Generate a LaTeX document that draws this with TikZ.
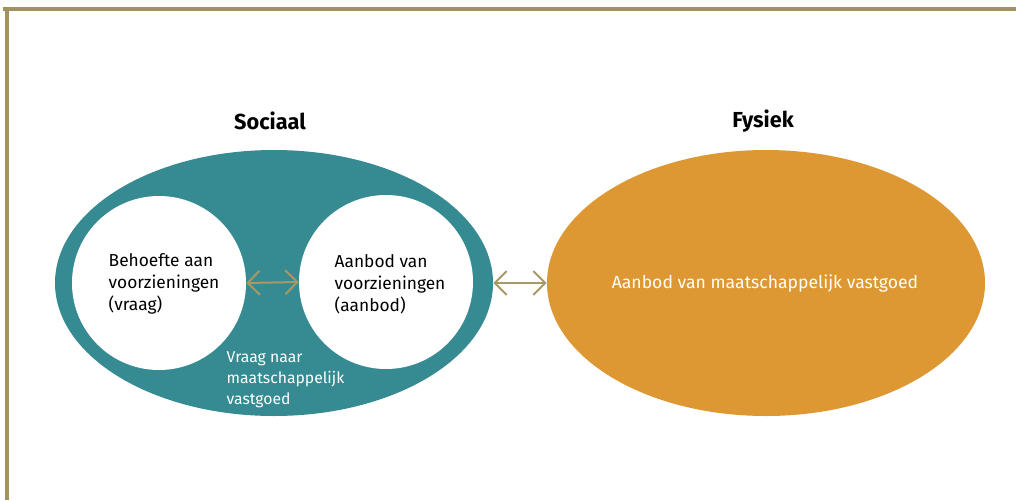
\documentclass[tikz,border=0pt]{standalone}
\usepackage{fontspec}
\setmainfont{Fira Sans}
\usetikzlibrary{shapes.geometric,arrows.meta}
\definecolor{teal1}{HTML}{368B93}
\definecolor{orange1}{HTML}{DE9833}
\definecolor{gold1}{HTML}{A89866}
\definecolor{frame1}{HTML}{A3925F}
\tikzset{
  bigell/.style={ellipse, minimum width=438*0.75pt, minimum height=266*0.75pt, inner sep=0pt},
  wcirc/.style={circle, fill=white, minimum size=174*0.75pt, inner sep=0pt},
  lbl/.style={font=\fontsize{13pt}{16.5pt}\selectfont, align=left, anchor=west},
  wlbl/.style={font=\fontsize{11.8pt}{15.7pt}\selectfont, align=left, text=white},
  ttl/.style={font=\fontsize{16.3pt}{18pt}\selectfont\bfseries},
  dbl/.style={draw=gold1, line width=1.5pt, {Straight Barb[length=9pt,width=18pt]}-{Straight Barb[length=9pt,width=18pt]}}
}
\begin{document}
\begin{tikzpicture}[x=0.75pt,y=-0.75pt]
\useasboundingbox (0,0) rectangle (1016,500);
\draw[frame1, line width=2.4pt] (3,9) coordinate (f1) -- (1016,9) coordinate (f2);
\draw[frame1, line width=2.4pt] (7,8) coordinate (f3) -- (7,500) coordinate (f4);
\node[bigell, fill=teal1] (soc) at (274,283) {};
\node[bigell, fill=orange1] (fys) at (766,283) {};
\node[wcirc] (lc) at (159,283) {};
\node[wcirc] (rc) at (386,282) {};
\node[lbl] (lt) at (104,284) {Behoefte aan\\voorzieningen\\(vraag)};
\node[lbl] (rt) at (330,284) {Aanbod van\\voorzieningen\\(aanbod)};
\node[wlbl, anchor=north west] (vt) at (222,347) {Vraag naar\\maatschappelijk\\vastgoed};
\node[font=\fontsize{13.2pt}{15pt}\selectfont, text=white] (ft) at (765,284) {Aanbod van maatschappelijk vastgoed};
\node[ttl] (st) at (270,121) {Sociaal};
\node[ttl] (yt) at (763,121) {Fysiek};
\draw[dbl] (lc.east) -- (rc.west);
\draw[dbl] (soc.east) -- (fys.west);
\end{tikzpicture}
\end{document}
